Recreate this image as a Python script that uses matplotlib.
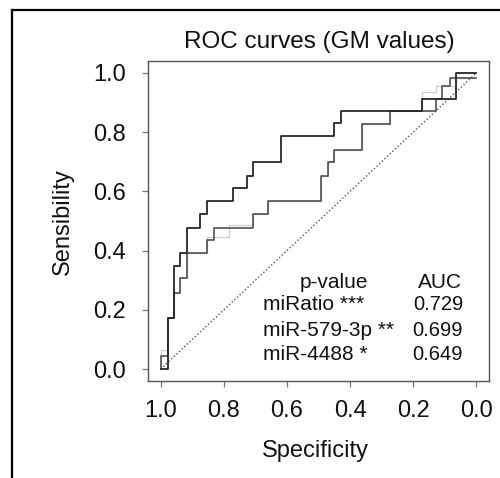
import matplotlib
matplotlib.use("Agg")
import matplotlib.pyplot as plt
from matplotlib.lines import Line2D

plt.rcParams['font.family'] = ['Liberation Sans', 'DejaVu Sans']

# ROC step corners (specificity, sensitivity), drawn with steps-post
spec_ratio = [1.0, 0.978, 0.959, 0.939, 0.918, 0.876, 0.854, 0.770, 0.725, 0.707,
              0.619, 0.450, 0.429, 0.172, 0.066, 0.0]
sens_ratio = [0.0, 0.174, 0.348, 0.393, 0.477, 0.522, 0.567, 0.612, 0.653, 0.699,
              0.786, 0.831, 0.870, 0.913, 1.0, 1.0]

spec_579 = [1.0, 1.0, 0.978, 0.959, 0.939, 0.918, 0.854, 0.831, 0.707, 0.661,
            0.492, 0.471, 0.452, 0.362, 0.275, 0.129, 0.108, 0.085, 0.0]
sens_579 = [0.0, 0.045, 0.174, 0.258, 0.306, 0.393, 0.435, 0.477, 0.522, 0.567,
            0.653, 0.699, 0.741, 0.828, 0.870, 0.913, 0.957, 0.982, 0.982]

spec_4488 = [1.0, 1.0, 0.978, 0.959, 0.939, 0.918, 0.854, 0.785, 0.707, 0.661,
             0.492, 0.471, 0.452, 0.362, 0.275, 0.172, 0.129, 0.066, 0.0]
sens_4488 = [0.0, 0.065, 0.174, 0.258, 0.306, 0.393, 0.447, 0.488, 0.522, 0.567,
             0.653, 0.699, 0.741, 0.828, 0.870, 0.935, 0.957, 0.982, 0.982]

legend_labels = ["miRatio ***", "miR-579-3p **", "miR-4488 *"]
auc_values = ["0.729", "0.699", "0.649"]
ticks = [1.0, 0.8, 0.6, 0.4, 0.2, 0.0]
tick_labels = ["1.0", "0.8", "0.6", "0.4", "0.2", "0.0"]

W, H = 500, 478
fig = plt.figure(figsize=(W / 100, H / 100), dpi=100)
fig.patch.set_facecolor('white')

def fx(px):
    return px / W

def fy(py):
    return 1 - py / H

ax = fig.add_axes([fx(148), fy(381), fx(489) - fx(148), fy(61) - fy(381)])
ax.set_xlim(1.04, -0.04)
ax.set_ylim(-0.04, 1.04)

ax.plot([1, 0], [0, 1], linestyle=(0, (1, 1.6)), color='#555555', lw=1.0)
ax.step(spec_4488, sens_4488, where='post', color='#cfcfcf', lw=0.9)
ax.step(spec_579, sens_579, where='post', color='#4a4a4a', lw=1.15)
ax.step(spec_ratio, sens_ratio, where='post', color='#262626', lw=1.3)

for s in ax.spines.values():
    s.set_color('#555555')
    s.set_linewidth(1.0)

ax.set_xticks(ticks)
ax.set_xticklabels(tick_labels)
ax.set_yticks(ticks)
ax.set_yticklabels(tick_labels)
ax.tick_params(axis='x', length=4.3, width=0.9, color='#777777', pad=9.5,
               labelsize=17, labelcolor='#111111')
ax.tick_params(axis='y', length=4.3, width=0.9, color='#777777', pad=11.5,
               labelsize=17, labelcolor='#111111')

fig.text(fx(319), fy(42), "ROC curves (GM values)", ha='center', va='center',
         fontsize=17.5, color='#111111')
fig.text(fx(63), fy(222), "Sensibility", ha='center', va='center', rotation=90,
         fontsize=17, color='#111111')
fig.text(fx(315), fy(451), "Specificity", ha='center', va='center',
         fontsize=17, color='#111111')

fig.text(fx(334), fy(282), "p-value", ha='center', va='center', fontsize=15, color='#111111')
fig.text(fx(440), fy(282), "AUC", ha='center', va='center', fontsize=15, color='#111111')
rows_y = [305, 330, 355]
for lab, auc, yy in zip(legend_labels, auc_values, rows_y):
    fig.text(fx(263), fy(yy), lab, ha='left', va='center', fontsize=15, color='#111111')
    fig.text(fx(463), fy(yy), auc, ha='right', va='center', fontsize=14.5, color='#111111')

# outer frame (left and top edges visible)
fig.add_artist(Line2D([fx(12), fx(12)], [fy(10), 0], color='black', lw=1.6,
                      transform=fig.transFigure))
fig.add_artist(Line2D([fx(12), 1.0], [fy(10), fy(10)], color='black', lw=1.6,
                      transform=fig.transFigure))

fig.savefig("out.png", dpi=100, facecolor='white')
